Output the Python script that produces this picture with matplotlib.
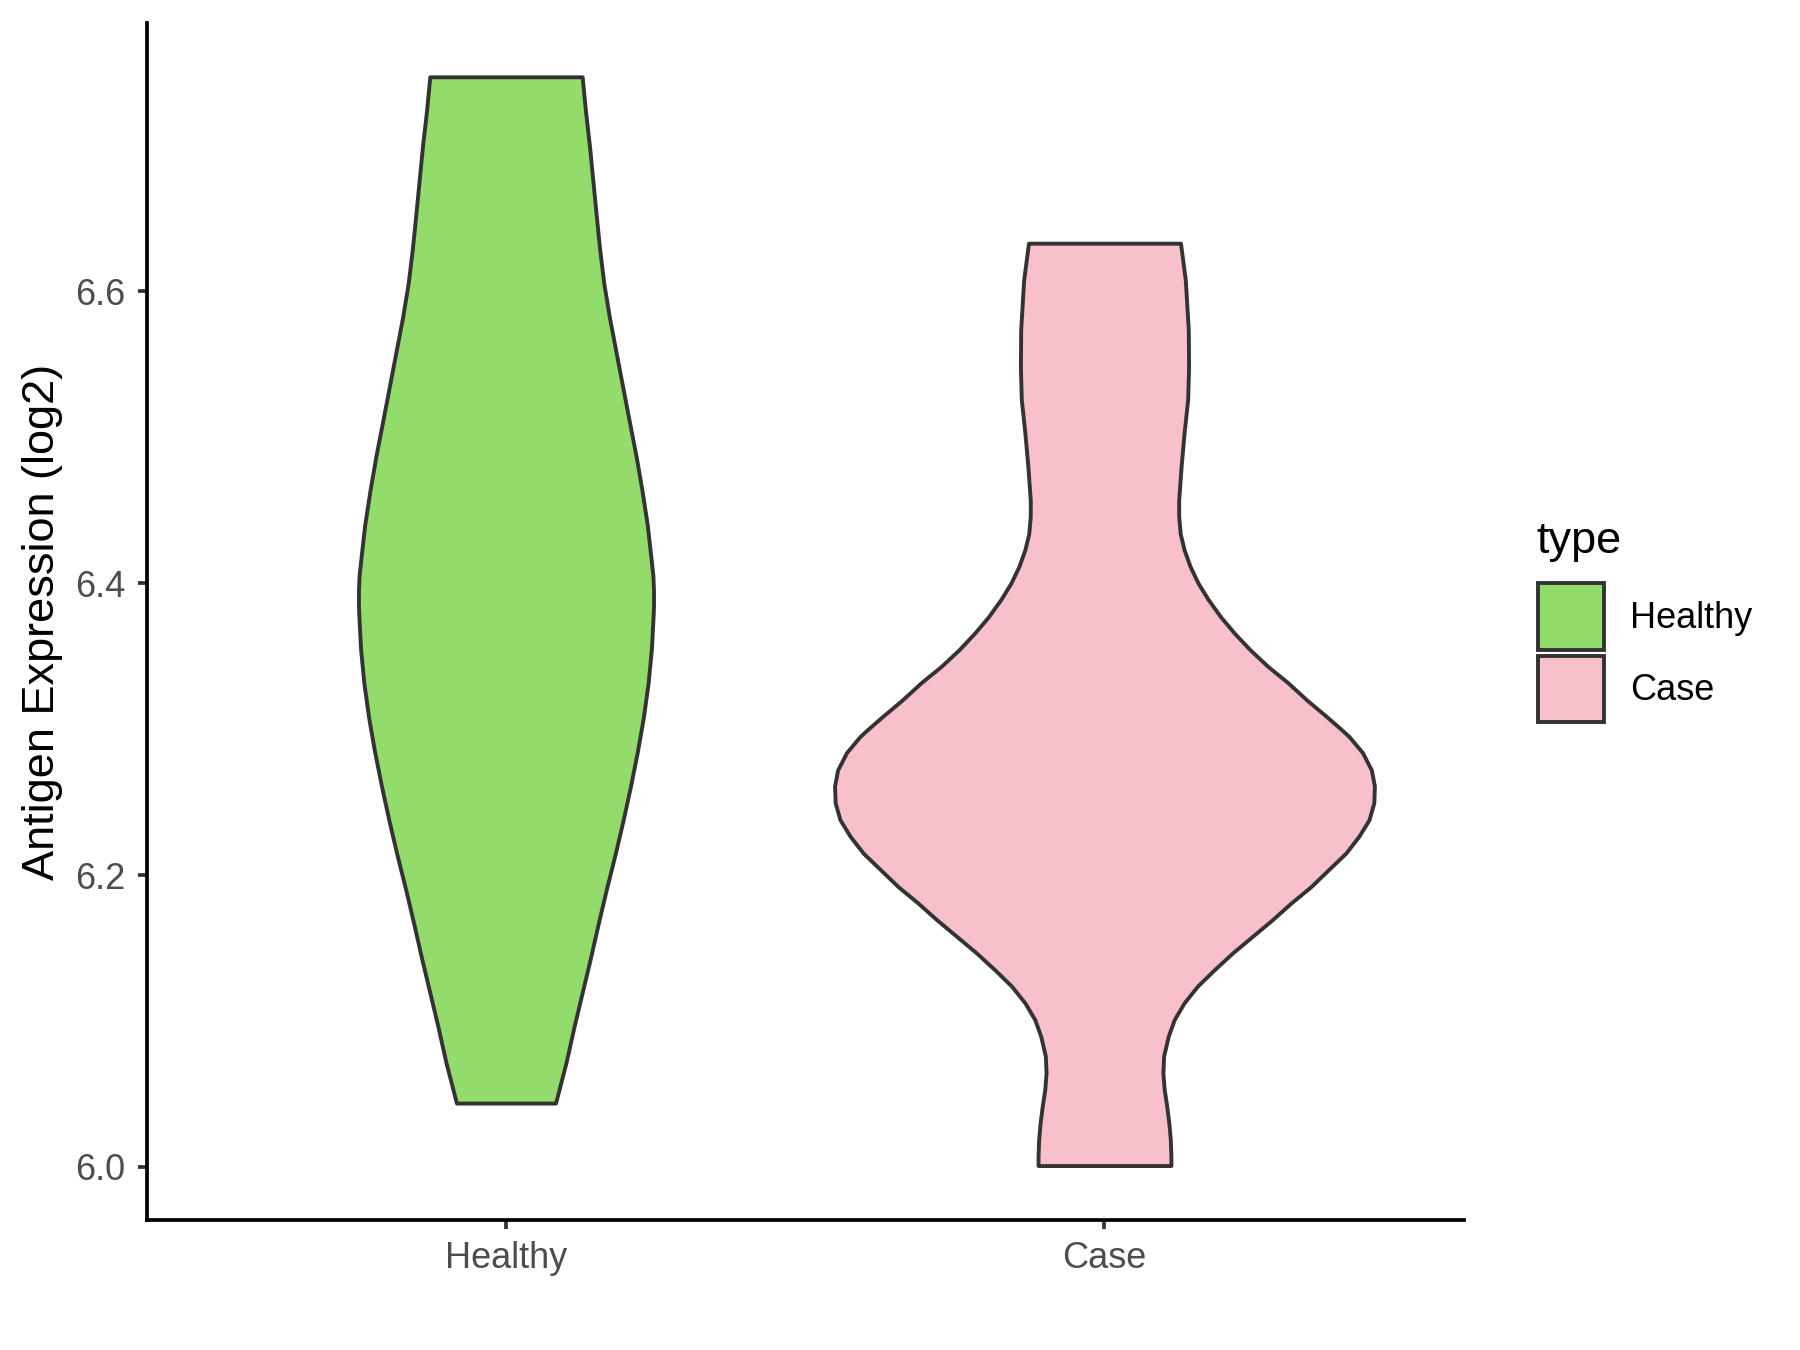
import matplotlib
matplotlib.use("Agg")
import matplotlib.pyplot as plt
from matplotlib.patches import Patch
import numpy as np

plt.rcParams['font.family'] = ['Liberation Sans', 'DejaVu Sans']

# groups and their fill colours
groups = ['Healthy', 'Case']
colors = ['#93DB6A', '#F7C0CB']
edge = '#333333'

# violin outlines: expression level and half width (x units)
healthy_y = [6.747, 6.7232, 6.6996, 6.676, 6.6524, 6.6289, 6.6053, 6.5817, 6.5581,
             6.5345, 6.511, 6.4874, 6.4637, 6.4402, 6.4165, 6.405, 6.395, 6.385,
             6.3789, 6.3552, 6.3317, 6.308, 6.2845, 6.2609, 6.2373, 6.2137, 6.190,
             6.1665, 6.143, 6.119, 6.0958, 6.0721, 6.0438]
healthy_hw = [0.1273, 0.1329, 0.1395, 0.1451, 0.1507, 0.1565, 0.1635, 0.173, 0.184,
              0.195, 0.206, 0.2172, 0.2272, 0.236, 0.2425, 0.2455, 0.2465, 0.2465,
              0.246, 0.243, 0.2375, 0.2295, 0.2195, 0.208, 0.1955, 0.182, 0.1675,
              0.154, 0.141, 0.127, 0.1135, 0.1006, 0.0828]

case_y = [6.633, 6.608, 6.574, 6.548, 6.526, 6.503, 6.480, 6.457, 6.446, 6.434,
          6.423, 6.4115, 6.400, 6.389, 6.377, 6.366, 6.3545, 6.343, 6.332, 6.320,
          6.309, 6.2997, 6.295, 6.284, 6.272, 6.261, 6.2495, 6.238, 6.2266, 6.215,
          6.204, 6.192, 6.181, 6.1695, 6.158, 6.1467, 6.135, 6.124, 6.1125, 6.101,
          6.0896, 6.076, 6.0645, 6.053, 6.0417, 6.030, 6.0188, 6.0074, 6.001]
case_hw = [0.127, 0.135, 0.140, 0.1405, 0.139, 0.133, 0.128, 0.124, 0.124, 0.1265,
           0.133, 0.143, 0.1565, 0.173, 0.194, 0.2166, 0.243, 0.273, 0.306, 0.338,
           0.370, 0.396, 0.4085, 0.431, 0.446, 0.451, 0.450, 0.442, 0.425, 0.403,
           0.375, 0.3446, 0.312, 0.2806, 0.247, 0.214, 0.183, 0.1555, 0.133, 0.1165,
           0.1065, 0.0988, 0.0976, 0.0998, 0.104, 0.1076, 0.110, 0.111, 0.111]

yticks = [6.0, 6.2, 6.4, 6.6]

fig = plt.figure(figsize=(18, 13.5), dpi=100)
ax = fig.add_axes([0.0816, 0.0961, 0.7315, 0.887])

profiles = [(healthy_y, healthy_hw), (case_y, case_hw)]
for i, (ys, hw) in enumerate(profiles):
    ys = np.array(ys)
    hw = np.array(hw)
    pos = i + 1
    ax.fill_betweenx(ys, pos - hw, pos + hw, facecolor=colors[i],
                     edgecolor=edge, linewidth=2.8, joinstyle='round')

ax.set_xlim(0.4, 2.6)
ax.set_ylim(5.9635, 6.784)
ax.set_xticks([1, 2])
ax.set_xticklabels(groups)
ax.set_yticks(yticks)
ax.set_yticklabels([f'{v:.1f}' for v in yticks])

for s in ['top', 'right']:
    ax.spines[s].set_visible(False)
for s in ['left', 'bottom']:
    ax.spines[s].set_linewidth(2.7)
    ax.spines[s].set_color('black')

ax.tick_params(axis='both', length=6.6, width=2.7, color=edge,
               labelsize=26, labelcolor='#4D4D4D')
ax.tick_params(axis='y', pad=9)
ax.tick_params(axis='x', pad=8.3)

ax.set_ylabel('Antigen Expression (log2)', fontsize=32.5, color='black')
ax.yaxis.set_label_coords(-0.0636, 0.5)

# legend: title as separate text so the gap to the keys matches
fig.text(0.8533, 0.5986, 'type', fontsize=32.5, ha='left', va='center')
handles = [Patch(facecolor=c, edgecolor=edge, linewidth=2.8) for c in colors]
leg = fig.legend(handles, groups, loc='upper left',
                 bbox_to_anchor=(0.8542, 0.568), frameon=False, fontsize=26,
                 handlelength=1.85, handleheight=2.46,
                 handletextpad=0.7, labelspacing=0.16, borderpad=0,
                 borderaxespad=0)

fig.savefig('out.png', dpi=100)
